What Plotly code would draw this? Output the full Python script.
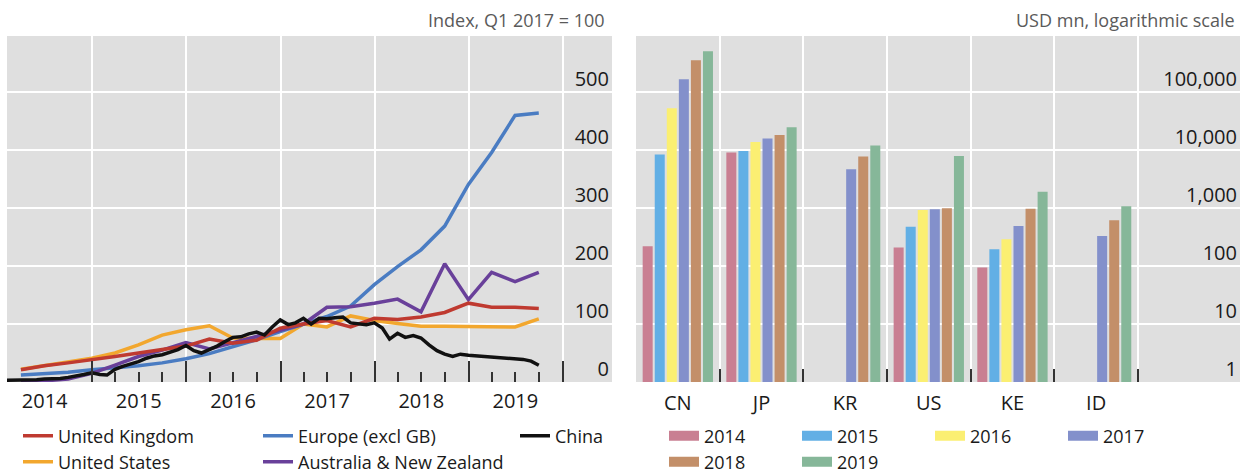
import pandas as pd
import plotly.graph_objects as go

# ---------------- Left panel: index, Q1 2017 = 100 ----------------
quarter_dates = ["2014-03-31", "2014-06-30", "2014-09-30", "2014-12-31",
                 "2015-03-31", "2015-06-30", "2015-09-30", "2015-12-31",
                 "2016-03-31", "2016-06-30", "2016-09-30", "2016-12-31",
                 "2017-03-31", "2017-06-30", "2017-09-30", "2017-12-31",
                 "2018-03-31", "2018-06-30", "2018-09-30", "2018-12-31",
                 "2019-03-31", "2019-06-30", "2019-09-30"]
month_dates = pd.date_range("2014-01-31", "2019-09-30", freq="ME").strftime("%Y-%m-%d").tolist()

uk = [21, 28, 33, 38, 44, 50, 56, 62, 74, 67, 72, 93, 100, 106, 95, 110, 108, 112, 120, 136, 129, 129, 127]
europe = [12, 14, 17, 21, 24, 28, 33, 40, 49, 61, 73, 87, 100, 113, 131, 168, 199, 228, 269, 341, 396, 460, 464]
us = [22, 28, 35, 41, 50, 64, 81, 90, 97, 76, 75, 75, 100, 95, 114, 106, 101, 96, 96, 96, 95, 95, 109]
aus_nz = [1, 2, 5, 15, 29, 44, 55, 68, 57, 68, 78, 90, 100, 129, 130, 136, 143, 121, 204, 142, 189, 173, 189]
china = [3, 3, 4, 4, 4, 5, 5, 6, 8, 10, 13, 16,
         13, 12, 22, 27, 31, 35, 41, 45, 47, 51, 56, 63,
         54, 50, 56, 62, 70, 77, 78, 83, 86, 81, 95, 107,
         99, 102, 110, 100, 110, 109, 111, 112, 102, 101, 99, 102,
         93, 74, 84, 77, 80, 76, 64, 54, 48, 44, 48, 46,
         45, 44, 43, 42, 40, 39, 39, 36, 29]
base_index = 100

year_bounds = ["2015-01-01", "2016-01-01", "2017-01-01", "2018-01-01", "2019-01-01", "2020-01-01"]
quarter_ticks = ["2015-04-01", "2015-07-01", "2015-10-01", "2016-04-01", "2016-07-01", "2016-10-01",
                 "2017-04-01", "2017-07-01", "2017-10-01", "2018-04-01", "2018-07-01", "2018-10-01",
                 "2019-04-01", "2019-07-01", "2019-10-01"]
year_label_pos = ["2014-07-01", "2015-07-01", "2016-07-01", "2017-07-01", "2018-07-01", "2019-07-01"]
year_labels = ["2014", "2015", "2016", "2017", "2018", "2019"]
left_range = ["2014-02-05", "2020-07-10"]
left_yticks = [0, 100, 200, 300, 400, 500]

# ---------------- Right panel: USD mn, log scale ----------------
countries = ["CN", "JP", "KR", "US", "KE", "ID"]
bar_years = ["2014", "2015", "2016", "2017", "2018", "2019"]
v2014 = [220, 9100, None, 210, 95, None]
v2015 = [8400, 9700, None, 475, 195, None]
v2016 = [53000, 13900, None, 925, 290, None]
v2017 = [167000, 15900, 4700, 960, 490, 330]
v2018 = [357000, 18300, 7800, 1000, 975, 620]
v2019 = [509000, 24900, 12000, 7950, 1920, 1080]
right_yticks = [1, 10, 100, 1000, 10000, 100000]
right_yticktext = ["1", "10", "100", "1,000", "10,000", "100,000"]

FONT = "Open Sans"
W, H = 1245, 475
PLOT_BG = "#dfdfdf"
ROW1, ROW2 = 436, 462


def px(x):
    return min(1.0, max(0.0, x / W))


def py(y):
    return min(1.0, max(0.0, 1 - y / H))


fig = go.Figure()

legfont = dict(family=FONT, size=18, color="#1a1a1a")
legend_layout = {}


def add_legend(key, x, y, **kw):
    legend_layout[key] = dict(orientation="h", x=px(x), y=py(y), xanchor="left", yanchor="middle",
                              bgcolor="rgba(0,0,0,0)", font=legfont, **kw)


# line series: (name, values, colour, legend id, legend x, legend y)
line_specs = [
    ("United States", us, "#f2a72e", "legend4", 18, ROW2),
    ("Europe (excl GB)", europe, "#4a7cc2", "legend2", 258, ROW1),
    ("Australia & New Zealand", aus_nz, "#69409a", "legend5", 258, ROW2),
    ("United Kingdom", uk, "#bf3a30", "legend", 18, ROW1),
]
for name, vals, color, lg, lx, ly in line_specs:
    fig.add_trace(go.Scatter(x=quarter_dates, y=vals, mode="lines", name=name,
                             line=dict(color=color, width=3.5), legend=lg,
                             xaxis="x", yaxis="y"))
    add_legend(lg, lx, ly)
fig.add_trace(go.Scatter(x=month_dates, y=china, mode="lines", name="China",
                         line=dict(color="#111111", width=3.5), legend="legend3",
                         xaxis="x", yaxis="y"))
add_legend("legend3", 515, ROW1)
# carrier for the year-label axis
fig.add_trace(go.Scatter(x=year_label_pos, y=[None] * len(year_label_pos), mode="lines",
                         showlegend=False, hoverinfo="skip", xaxis="x3", yaxis="y"))

# bars
bar_colors = ["#c97f92", "#62afe5", "#fbef72", "#8390cb", "#c38f69", "#86b799"]
bar_vals = [v2014, v2015, v2016, v2017, v2018, v2019]
for yr, vals, col in zip(bar_years, bar_vals, bar_colors):
    fig.add_trace(go.Bar(x=countries, y=vals, name=yr, marker=dict(color=col, line=dict(width=0)),
                         showlegend=False, xaxis="x2", yaxis="y2"))
# legend swatches for bars
for i, (yr, col) in enumerate(zip(bar_years, bar_colors)):
    fig.add_trace(go.Scatter(x=[None], y=[None], mode="lines", name=yr,
                             line=dict(color=col, width=16),
                             legend="legend6" if i < 4 else "legend7",
                             xaxis="x2", yaxis="y2"))
add_legend("legend6", 664, ROW1, entrywidth=88)
add_legend("legend7", 664, ROW2, entrywidth=88)

fig.add_shape(type="line", xref="x domain", yref="y", x0=0, x1=1, y0=base_index, y1=base_index,
              line=dict(color="#6b6b6b", width=2), layer="below")

ydom = [py(382), py(36)]
tickfont = dict(family=FONT, size=20, color="#1a1a1a")

fig.update_layout(
    width=W, height=H,
    margin=dict(l=0, r=0, t=0, b=0, autoexpand=False),
    paper_bgcolor="white", plot_bgcolor=PLOT_BG,
    font=dict(family=FONT, size=19, color="#1a1a1a"),
    barmode="group", bargap=0.135, bargroupgap=0.17,
    xaxis=dict(domain=[px(7), px(612)], type="date", range=left_range, anchor="y",
               tickmode="array", tickvals=year_bounds, showticklabels=False,
               ticks="inside", ticklen=21, tickwidth=1.5, tickcolor="#333333",
               showgrid=True, gridcolor="white", gridwidth=2, zeroline=False, showline=False,
               minor=dict(tickmode="array", tickvals=quarter_ticks, ticks="inside", ticklen=10,
                          tickwidth=1.5, tickcolor="#333333", showgrid=False)),
    xaxis3=dict(overlaying="x", anchor="y", type="date", range=left_range, side="bottom",
                tickmode="array", tickvals=year_label_pos, ticktext=year_labels,
                ticks="", showgrid=False, zeroline=False, showline=False, tickfont=tickfont,
                ticklabelstandoff=5),
    yaxis=dict(domain=ydom, range=[0, 597], anchor="x", side="right",
               tickmode="array", tickvals=left_yticks, ticks="",
               ticklabelposition="inside", ticklabelshift=-13, tickfont=tickfont,
               showgrid=True, gridcolor="white", gridwidth=2, zeroline=False, showline=False),
    xaxis2=dict(domain=[px(636), px(1240)], type="category", range=[-0.5, 6.72], anchor="y2",
                categoryorder="array", categoryarray=countries, tickson="boundaries",
                ticks="inside", ticklen=13, tickwidth=1.5, tickcolor="#333333",
                showgrid=True, gridcolor="white", gridwidth=2, zeroline=False, showline=False,
                tickfont=tickfont, ticklabelstandoff=7),
    yaxis2=dict(domain=ydom, type="log", range=[0, 5.97], anchor="x2", side="right",
                tickmode="array", tickvals=right_yticks, ticktext=right_yticktext, ticks="",
                ticklabelposition="inside", ticklabelshift=-13, tickfont=tickfont,
                showgrid=True, gridcolor="white", gridwidth=2, zeroline=False, showline=False),
    annotations=[
        dict(text="Index, Q1 2017 = 100", xref="paper", yref="paper", x=px(607), y=py(20),
             xanchor="right", yanchor="middle", showarrow=False,
             font=dict(family=FONT, size=18, color="#5a5a5a")),
        dict(text="USD mn, logarithmic scale", xref="paper", yref="paper", x=px(1237), y=py(20),
             xanchor="right", yanchor="middle", showarrow=False,
             font=dict(family=FONT, size=18, color="#5a5a5a")),
    ],
    showlegend=True,
    **legend_layout,
)

fig.write_html("out.html", config={"displayModeBar": False},
               post_script="document.body.style.margin='0';")
